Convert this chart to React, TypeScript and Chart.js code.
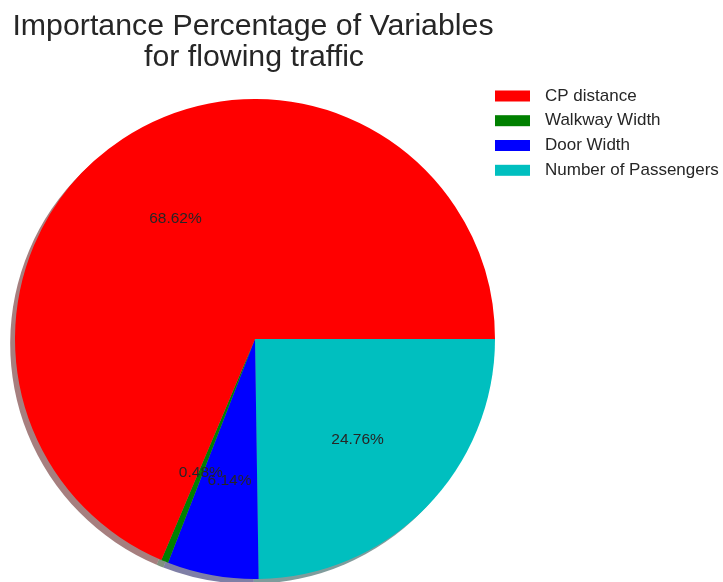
import React, { useEffect, useRef } from "react";
import { Chart, registerables } from "chart.js";

Chart.register(...registerables);

const titleLines = ["Importance Percentage of Variables", "for flowing traffic"];
const categories = ["CP distance", "Walkway Width", "Door Width", "Number of Passengers"];
const importance = [68.62, 0.48, 6.14, 24.76];
const colors = ["#ff0000", "#008000", "#0000ff", "#00bfbf"];

const FONT = "'Liberation Sans', Arial, Helvetica, sans-serif";
const TEXT = "#262626";

function hexToRgb(h: string) {
  const n = parseInt(h.slice(1), 16);
  return [(n >> 16) & 255, (n >> 8) & 255, n & 255];
}

export default function App() {
  const ref = useRef<HTMLCanvasElement | null>(null);

  useEffect(() => {
    if (!ref.current) return;
    // matplotlib draws counter-clockwise from 3 o'clock; Chart.js clockwise -> reverse order
    const revLabels = [...categories].reverse();
    const revValues = [...importance].reverse();
    const revColors = [...colors].reverse();

    const shadowPlugin = {
      id: "shadow",
      beforeDatasetsDraw(chart: any) {
        const ctx = chart.ctx;
        const meta = chart.getDatasetMeta(0);
        const off = 4.8;
        meta.data.forEach((arc: any, i: number) => {
          const { x, y, startAngle, endAngle, outerRadius } = arc.getProps(
            ["x", "y", "startAngle", "endAngle", "outerRadius"],
            true
          );
          const [r, g, b] = hexToRgb(revColors[i]);
          ctx.save();
          ctx.beginPath();
          ctx.moveTo(x - off, y + off);
          ctx.arc(x - off, y + off, outerRadius, startAngle, endAngle);
          ctx.closePath();
          ctx.fillStyle = `rgba(${Math.round(r * 0.3)},${Math.round(g * 0.3)},${Math.round(b * 0.3)},0.5)`;
          ctx.fill();
          ctx.restore();
        });
      },
    };

    const labelPlugin = {
      id: "pctLabels",
      afterDatasetsDraw(chart: any) {
        const ctx = chart.ctx;
        const meta = chart.getDatasetMeta(0);
        ctx.save();
        ctx.font = `15.5px ${FONT}`;
        ctx.fillStyle = TEXT;
        ctx.textAlign = "center";
        ctx.textBaseline = "middle";
        meta.data.forEach((arc: any, i: number) => {
          const { x, y, startAngle, endAngle, outerRadius } = arc.getProps(
            ["x", "y", "startAngle", "endAngle", "outerRadius"],
            true
          );
          const mid = (startAngle + endAngle) / 2;
          const rr = outerRadius * 0.6;
          ctx.fillText(revValues[i].toFixed(2) + "%", x + rr * Math.cos(mid), y + rr * Math.sin(mid));
        });
        ctx.restore();
      },
    };

    const decorPlugin = {
      id: "decor",
      afterDraw(chart: any) {
        const ctx = chart.ctx;
        ctx.save();
        // title
        ctx.font = `30.3px ${FONT}`;
        ctx.fillStyle = TEXT;
        ctx.textAlign = "center";
        ctx.textBaseline = "alphabetic";
        ctx.fillText(titleLines[0], 253, 35);
        ctx.fillText(titleLines[1], 254, 66);
        // legend
        ctx.font = `17px ${FONT}`;
        ctx.textAlign = "left";
        ctx.textBaseline = "middle";
        const rows = [96, 120.7, 145.5, 170.3];
        categories.forEach((c, i) => {
          const yy = rows[i];
          ctx.fillStyle = colors[i];
          ctx.fillRect(495, yy - 5.5, 35, 11);
          ctx.fillStyle = TEXT;
          ctx.fillText(c, 545, yy);
        });
        ctx.restore();
      },
    };

    const chart = new Chart(ref.current, {
      type: "pie",
      data: {
        labels: revLabels,
        datasets: [
          {
            data: revValues,
            backgroundColor: revColors,
            borderWidth: 0,
            hoverOffset: 0,
          },
        ],
      },
      options: {
        responsive: false,
        animation: false,
        devicePixelRatio: 1,
        rotation: 90,
        layout: { padding: { left: 15, top: 99, right: 228, bottom: 3 } },
        plugins: {
          legend: { display: false },
          title: { display: false },
          tooltip: { enabled: false },
        },
        events: [],
      },
      plugins: [shadowPlugin, labelPlugin, decorPlugin],
    });
    return () => chart.destroy();
  }, []);

  return (
    <div style={{ position: "fixed", left: 0, top: 0, width: 723, height: 582, background: "#fff" }}>
      <canvas ref={ref} width={723} height={582} style={{ width: 723, height: 582, display: "block" }} />
    </div>
  );
}
